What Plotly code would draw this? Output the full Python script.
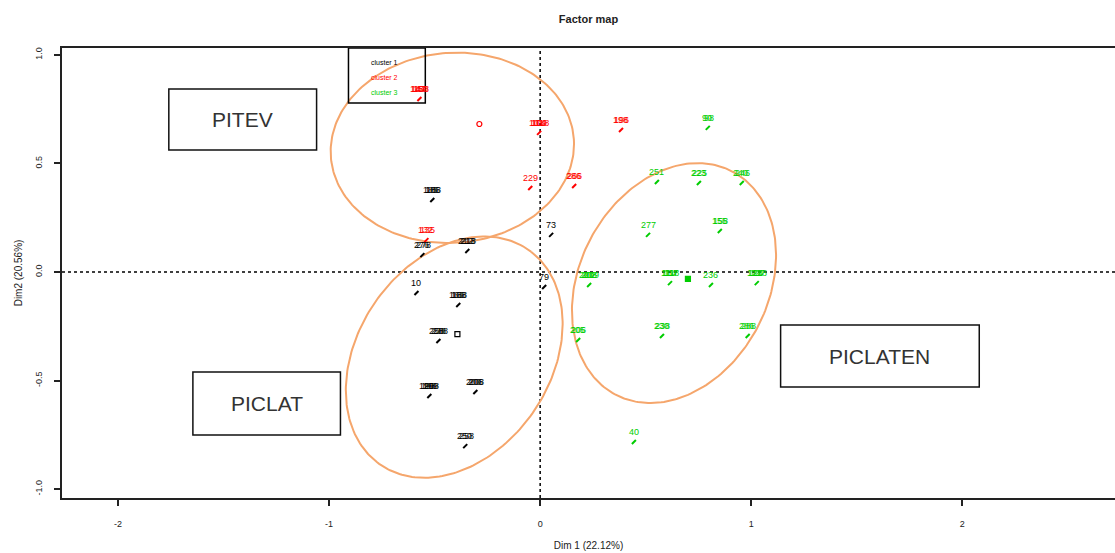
import numpy as np
import plotly.graph_objects as go

# ---------------- data ----------------
x_ticks = [-2, -1, 0, 1, 2]
x_tick_labels = ["-2", "-1", "0", "1", "2"]
y_ticks = [-1.0, -0.5, 0.0, 0.5, 1.0]
y_tick_labels = ["-1.0", "-0.5", "0.0", "0.5", "1.0"]

clusters = ["cluster 1", "cluster 2", "cluster 3"]
cluster_colors = ["#000000", "#FF0000", "#00CD00"]

# cluster 1 (black): coordinates and individual ids (space separated when overlapping)
c1_x = [-0.511, -0.558, -0.345, 0.052, -0.586, 0.019, -0.388, -0.482, -0.525, -0.307, -0.355]
c1_y = [0.332, 0.078, 0.097, 0.171, -0.097, -0.069, -0.152, -0.318, -0.571, -0.553, -0.802]
c1_ids = ["185 186 188", "276 278", "212 213 218", "73", "10", "79",
          "165 168 188", "258 238 288", "195 198 199 208", "200 206 208", "250 258"]

# cluster 2 (red)
c2_x = [-0.572, -0.005, -0.047, 0.161, 0.383, -0.539]
c2_y = [0.797, 0.641, 0.387, 0.396, 0.654, 0.147]
c2_ids = ["144 147 150 158", "101 104 109 118", "229", "286 266", "198 196", "132 135"]

# cluster 3 (green)
c3_x = [0.794, 0.553, 0.752, 0.955, 0.511, 0.851, 0.232, 0.615, 0.809, 1.026, 0.180, 0.577, 0.983, 0.444]
c3_y = [0.664, 0.415, 0.410, 0.410, 0.171, 0.189, -0.060, -0.051, -0.060, -0.051, -0.313, -0.295, -0.295, -0.783]
c3_ids = ["90 98", "251", "223 225", "240 246", "277", "155 158", "201 202 208 209",
          "111 114 117 118", "236", "121 124 127 128", "205 206", "230 238", "286 288", "40"]

# cluster centres
centre_x = [-0.392, -0.288, 0.700]
centre_y = [-0.286, 0.682, -0.032]

# zone ellipses (centre, semi-axes, rotation in degrees)
ell_cx = [-0.416, -0.407, 0.634]
ell_cy = [0.572, -0.392, -0.051]
ell_a = [0.577, 0.607, 0.584]
ell_b = [0.438, 0.452, 0.445]
ell_angle = [4, 53, 60]

# zone labels
zone_names = ["PITEV", "PICLAT", "PICLATEN"]
zone_x0 = [-1.759, -1.645, 1.139]
zone_x1 = [-1.059, -0.946, 2.080]
zone_y0 = [0.562, -0.751, -0.530]
zone_y1 = [0.843, -0.461, -0.244]

# ---------------- figure ----------------
FONT = "Liberation Sans"
fig = go.Figure()

# reference lines
fig.add_hline(y=0, line=dict(color="black", width=1.5, dash="3px,3px"), layer="below")
fig.add_vline(x=0, line=dict(color="black", width=1.5, dash="3px,3px"), layer="below")

# ellipses
phi = np.linspace(0, 2 * np.pi, 241)
for cx, cy, a, b, ang in zip(ell_cx, ell_cy, ell_a, ell_b, ell_angle):
    t = np.deg2rad(ang)
    ex = cx + a * np.cos(t) * np.cos(phi) - b * np.sin(t) * np.sin(phi)
    ey = cy + a * np.sin(t) * np.cos(phi) + b * np.cos(t) * np.sin(phi)
    fig.add_trace(go.Scatter(x=ex, y=ey, mode="lines",
                             line=dict(color="#F5A66C", width=2),
                             hoverinfo="skip", showlegend=False))

annotations = []
for name, color, xs, ys, ids in [
    (clusters[0], cluster_colors[0], c1_x, c1_y, c1_ids),
    (clusters[1], cluster_colors[1], c2_x, c2_y, c2_ids),
    (clusters[2], cluster_colors[2], c3_x, c3_y, c3_ids),
]:
    fig.add_trace(go.Scatter(
        x=xs, y=ys, mode="markers", name=name,
        marker=dict(symbol="line-ne", size=4, color=color,
                    line=dict(color=color, width=2)),
        text=ids, showlegend=False))
    for x, y, lab in zip(xs, ys, ids):
        parts = lab.split()
        n = len(parts)
        for k, ident in enumerate(parts):
            annotations.append(dict(
                x=x, y=y, text=ident, showarrow=False, yshift=10,
                xshift=(k - (n - 1) / 2) * 1.6,
                font=dict(family=FONT, size=9, color=color)))

fig.add_trace(go.Scatter(
    x=centre_x, y=centre_y, mode="markers", showlegend=False,
    marker=dict(symbol=["square-open", "circle-open", "square"], size=5,
                color=cluster_colors, line=dict(color=cluster_colors, width=1.2))))

# zone boxes
for nm, x0, x1, y0, y1 in zip(zone_names, zone_x0, zone_x1, zone_y0, zone_y1):
    fig.add_shape(type="rect", x0=x0, x1=x1, y0=y0, y1=y1,
                  line=dict(color="#111111", width=1.5), fillcolor="rgba(0,0,0,0)")
    annotations.append(dict(x=(x0 + x1) / 2, y=(y0 + y1) / 2, text=nm, showarrow=False,
                            font=dict(family=FONT, size=21, color="#333333")))

# legend box
fig.add_shape(type="rect", x0=-0.908, x1=-0.544, y0=0.779, y1=1.032,
              line=dict(color="black", width=1.5))
for i, (nm, col) in enumerate(zip(clusters, cluster_colors)):
    annotations.append(dict(x=-0.812, y=0.963 - i * 0.069, text=nm, showarrow=False,
                            xanchor="left", font=dict(family=FONT, size=7, color=col)))

fig.update_layout(
    width=1115, height=553,
    margin=dict(l=62, r=0, t=48, b=55),
    paper_bgcolor="white", plot_bgcolor="white",
    title=dict(text="<b>Factor map</b>", x=0.5, xref="paper", xanchor="center",
               y=1 - 19 / 553, yanchor="middle",
               font=dict(family=FONT, size=11, color="#222222")),
    annotations=annotations,
    showlegend=False,
    xaxis=dict(range=[-2.265, 2.723], tickvals=x_ticks, ticktext=x_tick_labels,
               automargin=False,
               showgrid=False, zeroline=False, showline=True, mirror=True,
               linecolor="#222222", linewidth=2, ticks="outside", ticklen=6,
               tickwidth=1.5, tickcolor="#222222", ticklabelstandoff=10,
               tickfont=dict(family=FONT, size=9, color="#222222"),
               title=dict(text="Dim 1 (22.12%)", standoff=14,
                          font=dict(family=FONT, size=10, color="#222222"))),
    yaxis=dict(range=[-1.041, 1.032], tickvals=y_ticks, ticktext=y_tick_labels,
               automargin=False,
               showgrid=False, zeroline=False, showline=True, mirror=False,
               linecolor="#222222", linewidth=2, ticks="outside", ticklen=6,
               tickwidth=1.5, tickcolor="#222222", tickangle=-90, ticklabelstandoff=8,
               tickfont=dict(family=FONT, size=9, color="#222222"),
               title=dict(text="Dim2 (20.56%)", standoff=10,
                          font=dict(family=FONT, size=10, color="#222222"))),
)

fig.write_html("out.html", config={"displayModeBar": False},
               post_script="document.body.style.margin='0';document.body.style.padding='0';")
